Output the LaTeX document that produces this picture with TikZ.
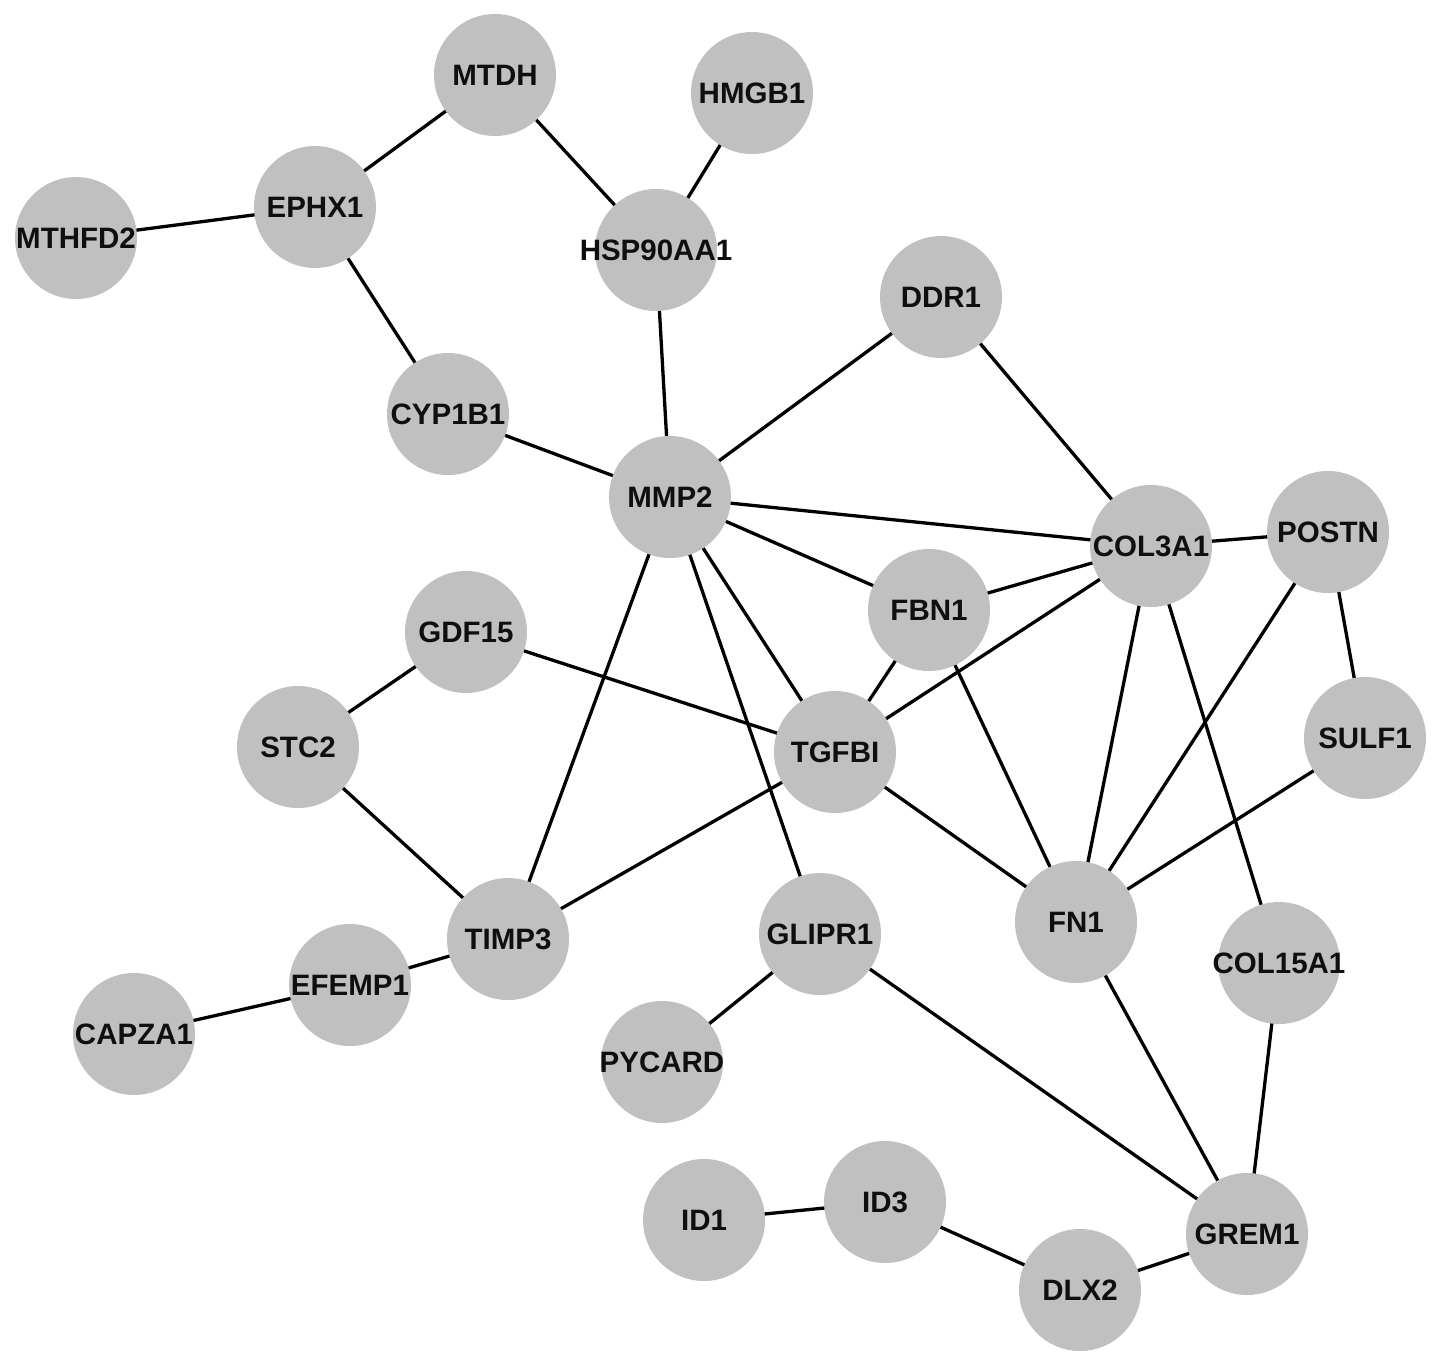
\documentclass[tikz,border=0pt]{standalone}
\usepackage{fontspec}
\setmainfont{Liberation Sans}
\usetikzlibrary{backgrounds}
\definecolor{nodegray}{RGB}{192,192,192}
\definecolor{txt}{RGB}{15,15,15}
\newcommand\gname[1]{\makebox[0pt][c]{#1}}
\tikzset{
  gene/.style={circle, fill=nodegray, minimum size=122pt, inner sep=0pt, text=txt,
    font=\fontsize{29.5}{34}\selectfont\bfseries},
  link/.style={line width=3.3pt, black}
}
\begin{document}
\begin{tikzpicture}[x=1pt,y=-1pt]
\useasboundingbox (0,0) rectangle (1441,1363);
\node[gene] (MTDH) at (495,75) {\gname{MTDH}};
\node[gene] (HMGB1) at (752,93) {\gname{HMGB1}};
\node[gene] (EPHX1) at (315,207) {\gname{EPHX1}};
\node[gene] (MTHFD2) at (76,238) {\gname{MTHFD2}};
\node[gene] (HSP) at (656,250) {\gname{HSP90AA1}};
\node[gene] (DDR1) at (941,297) {\gname{DDR1}};
\node[gene] (CYP1B1) at (448,414) {\gname{CYP1B1}};
\node[gene] (MMP2) at (670,497) {\gname{MMP2}};
\node[gene] (COL3A1) at (1151,546) {\gname{COL3A1}};
\node[gene] (POSTN) at (1328,532) {\gname{POSTN}};
\node[gene] (FBN1) at (929,610) {\gname{FBN1}};
\node[gene] (GDF15) at (466,632) {\gname{GDF15}};
\node[gene] (STC2) at (298,747) {\gname{STC2}};
\node[gene] (TGFBI) at (835,752) {\gname{TGFBI}};
\node[gene] (SULF1) at (1365,738) {\gname{SULF1}};
\node[gene] (TIMP3) at (508,939) {\gname{TIMP3}};
\node[gene] (GLIPR1) at (820,934) {\gname{GLIPR1}};
\node[gene] (FN1) at (1076,922) {\gname{FN1}};
\node[gene] (COL15A1) at (1279,963) {\gname{COL15A1}};
\node[gene] (EFEMP1) at (350,985) {\gname{EFEMP1}};
\node[gene] (CAPZA1) at (134,1034) {\gname{CAPZA1}};
\node[gene] (PYCARD) at (662,1062) {\gname{PYCARD}};
\node[gene] (ID1) at (704,1220) {\gname{ID1}};
\node[gene] (ID3) at (885,1202) {\gname{ID3}};
\node[gene] (GREM1) at (1247,1234) {\gname{GREM1}};
\node[gene] (DLX2) at (1080,1290) {\gname{DLX2}};
\begin{scope}[on background layer]
\foreach \a/\b in {MTDH/EPHX1, MTDH/HSP, HMGB1/HSP, EPHX1/MTHFD2, EPHX1/CYP1B1,
  HSP/MMP2, CYP1B1/MMP2, DDR1/MMP2, DDR1/COL3A1, MMP2/COL3A1, MMP2/FBN1,
  MMP2/TGFBI, MMP2/TIMP3, MMP2/GLIPR1, COL3A1/POSTN, COL3A1/FBN1, COL3A1/TGFBI,
  COL3A1/FN1, COL3A1/COL15A1, POSTN/SULF1, POSTN/FN1, FBN1/TGFBI, FBN1/FN1,
  GDF15/STC2, GDF15/TGFBI, STC2/TIMP3, TGFBI/TIMP3, TGFBI/FN1, SULF1/FN1,
  TIMP3/EFEMP1, EFEMP1/CAPZA1, GLIPR1/PYCARD, GLIPR1/GREM1, FN1/GREM1,
  COL15A1/GREM1, ID1/ID3, ID3/DLX2, DLX2/GREM1}
  \draw[link] (\a.center) -- (\b.center);
\end{scope}
\end{tikzpicture}
\end{document}
